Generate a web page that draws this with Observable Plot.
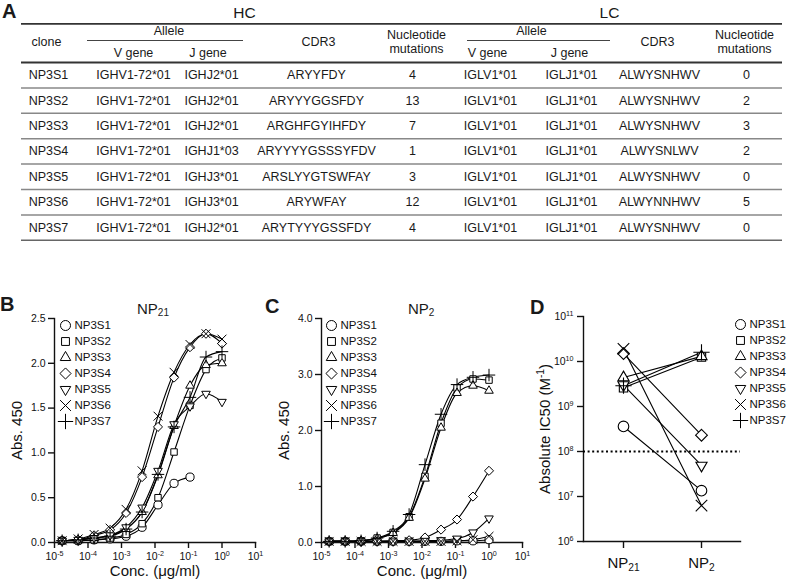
<!DOCTYPE html>
<html><head><meta charset="utf-8">
<script src="https://cdn.jsdelivr.net/npm/d3@7"></script>
<script src="https://cdn.jsdelivr.net/npm/@observablehq/plot@0.6"></script>
<style>
body{margin:0;background:#fff;}
#fig{position:relative;width:787px;height:587px;font-family:"Liberation Sans",Arial,sans-serif;color:#1a1a1a;overflow:hidden;background:#fff}
#fig .abs{position:absolute}
.letter{font-weight:bold;font-size:20px;line-height:1}
.ptitle{font-size:15px;line-height:1;white-space:nowrap}
.ptitle sub{font-size:10px;vertical-align:-2px;line-height:0}
</style></head><body><div id="fig"></div><script>
// ---------- DATA ----------
const names = ["NP3S1","NP3S2","NP3S3","NP3S4","NP3S5","NP3S6","NP3S7"];
const hcVGene = ["IGHV1-72*01","IGHV1-72*01","IGHV1-72*01","IGHV1-72*01","IGHV1-72*01","IGHV1-72*01","IGHV1-72*01"];
const hcJGene = ["IGHJ2*01","IGHJ2*01","IGHJ2*01","IGHJ1*03","IGHJ3*01","IGHJ3*01","IGHJ2*01"];
const hcCDR3 = ["ARYYFDY","ARYYYGGSFDY","ARGHFGYIHFDY","ARYYYYGSSSYFDV","ARSLYYGTSWFAY","ARYWFAY","ARYTYYYGSSFDY"];
const hcMutations = [4,13,7,1,3,12,4];
const lcVGene = ["IGLV1*01","IGLV1*01","IGLV1*01","IGLV1*01","IGLV1*01","IGLV1*01","IGLV1*01"];
const lcJGene = ["IGLJ1*01","IGLJ1*01","IGLJ1*01","IGLJ1*01","IGLJ1*01","IGLJ1*01","IGLJ1*01"];
const lcCDR3 = ["ALWYSNHWV","ALWYSNHWV","ALWYSNHWV","ALWYSNLWV","ALWYSNHWV","ALWYNNHWV","ALWYSNHWV"];
const lcMutations = [0,2,3,2,0,5,0];

// concentrations (µg/ml), 3-fold dilution series from 1
const conc = [1, 0.333, 0.111, 0.037, 0.0123, 0.00412, 0.00137, 0.000457, 0.000152, 0.0000508, 0.0000169];
// Panel B: Abs 450 on NP21 (same order as conc)
const absNP21 = [
  [null, null, 0.73, 0.66, 0.42, 0.17, 0.07, 0.04, 0.03, 0.02, 0.02],
  [2.06, 1.93, 1.53, 1.01, 0.50, 0.21, 0.09, 0.05, 0.03, 0.02, 0.02],
  [2.00, 1.98, 1.75, 1.30, 0.75, 0.34, 0.15, 0.08, 0.05, 0.03, 0.02],
  [2.22, 2.33, 2.18, 1.84, 1.29, 0.73, 0.33, 0.14, 0.08, 0.03, 0.02],
  [1.57, 1.66, 1.52, 1.32, 0.80, 0.39, 0.17, 0.08, 0.05, 0.03, 0.02],
  [2.27, 2.33, 2.21, 1.90, 1.41, 0.80, 0.37, 0.16, 0.09, 0.04, 0.02],
  [2.13, 2.07, 1.62, 1.29, 0.76, 0.34, 0.15, 0.07, 0.05, 0.03, 0.02]
];
// Panel C: Abs 450 on NP2
const absNP2 = [
  [0.05, 0.03, 0.03, 0.02, 0.02, 0.02, 0.02, 0.02, 0.02, 0.02, 0.02],
  [2.90, 2.92, 2.76, 2.13, 1.18, 0.46, 0.18, 0.08, 0.03, 0.02, 0.02],
  [2.71, 2.80, 2.67, 2.05, 1.14, 0.44, 0.17, 0.07, 0.03, 0.02, 0.02],
  [1.28, 0.82, 0.41, 0.23, 0.09, 0.04, 0.03, 0.02, 0.02, 0.02, 0.02],
  [0.43, 0.18, 0.07, 0.04, 0.03, 0.02, 0.02, 0.02, 0.02, 0.02, 0.02],
  [0.11, 0.05, 0.03, 0.02, 0.02, 0.02, 0.02, 0.02, 0.02, 0.02, 0.02],
  [2.99, 2.95, 2.82, 2.29, 1.39, 0.50, 0.20, 0.08, 0.03, 0.02, 0.02]
];
// Panel D: Absolute IC50 (M^-1)
const antigens = ["NP21","NP2"];
const antigenLabels = ["NP₂₁","NP₂"];
const ic50NP21 = [3.6e8, 2.6e9, 4.4e9, 1.5e10, 3.0e9, 1.9e10, 2.9e9];
const ic50NP2  = [1.35e7, 1.25e10, 1.3e10, 2.3e8, 4.9e7, 6.3e6, 1.6e10];
const ic50Threshold = [1e8];

const xTicksConc = [1e-5,1e-4,1e-3,1e-2,1e-1,1,10];
const yTicksB = [0,0.5,1,1.5,2,2.5];
const yTicksC = [0,1,2,3,4];
const yTicksD = [1e6,1e7,1e8,1e9,1e10,1e11];

// ---------- LAYOUT / STYLE ----------
const FONT = '"Liberation Sans", Arial, sans-serif';
const fig = document.getElementById("fig");
const supMap = {"-":"⁻","0":"⁰","1":"¹","2":"²","3":"³","4":"⁴","5":"⁵","6":"⁶","7":"⁷","8":"⁸","9":"⁹"};
const supBack = Object.fromEntries(Object.entries(supMap).map(([k,v])=>[v,k]));
const SUB = "₀₁₂₃₄₅₆₇₈₉";
const sup = s => String(s).split("").map(c => supMap[c]).join("");
const pow10 = d => "10" + sup(Math.round(Math.log10(d)));
const triDown = {draw(context, size){ const s=Math.sqrt(size)*0.6824, t=s/2, u=s*Math.sqrt(3)/2; context.moveTo(0,s); context.lineTo(u,-t); context.lineTo(-u,-t); context.closePath(); }};
const symbols = ["circle","square2","triangle2","diamond2",triDown,"times","plus"];

// render unicode super/subscripts as smaller shifted tspans
function richText(svg){
  svg.querySelectorAll("text").forEach(t => {
    const els = t.querySelectorAll("tspan").length ? [...t.querySelectorAll("tspan")] : [t];
    els.forEach(el => {
      const s = el.textContent;
      if (![...s].some(ch => ch in supBack || SUB.includes(ch))) return;
      const fs = parseFloat(getComputedStyle(el).fontSize) || 10;
      const runs = [];
      for (const ch of s) {
        const kind = ch in supBack ? "sup" : SUB.includes(ch) ? "sub" : "n";
        const plain = kind === "sup" ? supBack[ch] : kind === "sub" ? String(SUB.indexOf(ch)) : ch;
        if (runs.length && runs[runs.length-1].kind === kind) runs[runs.length-1].text += plain;
        else runs.push({kind, text: plain});
      }
      el.textContent = "";
      let shift = 0;
      runs.forEach(r => {
        const ts = document.createElementNS("http://www.w3.org/2000/svg", "tspan");
        const target = r.kind === "sup" ? -0.4*fs : r.kind === "sub" ? 0.22*fs : 0;
        const dy = target - shift; shift = target;
        if (dy) ts.setAttribute("dy", dy.toFixed(2));
        if (r.kind !== "n") ts.setAttribute("font-size", (0.68*fs).toFixed(2));
        ts.textContent = r.text;
        el.appendChild(ts);
      });
    });
  });
}

function place(el, left, top){ el.classList.add("abs"); el.style.left=left+"px"; el.style.top=top+"px"; fig.appendChild(el); if (el.tagName.toLowerCase()==="svg") richText(el); return el; }
function html(cls, content, left, top){ const d=document.createElement("div"); d.className=cls; d.innerHTML=content; return place(d,left,top); }
const baseStyle = {fontFamily: FONT, fontSize: "10.5px", color: "#111", background: "transparent", overflow: "visible"};

// ---------- TABLE (panel A) ----------
const colX = {clone:48, hcV:133, hcJ:211, hcCDR3:316, hcMut:412, lcV:490, lcJ:571, lcCDR3:659, lcMut:746};
const headTop = 62, rowH = 25.4;
const rowY = i => headTop + rowH*(i+0.5);
const cells = [];
names.forEach((n,i)=>{
  const vals = {clone:n, hcV:hcVGene[i], hcJ:hcJGene[i], hcCDR3:hcCDR3[i], hcMut:String(hcMutations[i]), lcV:lcVGene[i], lcJ:lcJGene[i], lcCDR3:lcCDR3[i], lcMut:String(lcMutations[i])};
  for (const k in vals) cells.push({x:colX[k], y:rowY(i), text:vals[k]});
});
const headers = [
  {x:colX.clone-2, y:41, text:"clone"},
  {x:168.5, y:29.5, text:"Allele"}, {x:531, y:29.5, text:"Allele"},
  {x:colX.hcV, y:52, text:"V gene"}, {x:207.5, y:52, text:"J gene"},
  {x:colX.lcV-3, y:52, text:"V gene"}, {x:colX.lcJ-2, y:52, text:"J gene"},
  {x:colX.hcCDR3+2, y:41, text:"CDR3"}, {x:colX.lcCDR3-2, y:41, text:"CDR3"},
  {x:416, y:41, text:"Nucleotide\nmutations"}, {x:colX.lcMut-2, y:41, text:"Nucleotide\nmutations"}
];
const chainLabels = [{x:244, y:13, text:"HC"}, {x:609, y:13, text:"LC"}];
const rowLines = d3.range(1,7).map(k => ({y: headTop + rowH*k}));
const tableSvg = Plot.plot({
  width: 787, height: 246, margin: 0,
  x: {type:"identity", axis:null}, y: {type:"identity", axis:null},
  style: {...baseStyle, fontSize:"12.5px", color:"#1a1a1a"},
  marks: [
    Plot.ruleY([23.3], {x1:21, x2:782, stroke:"#333", strokeWidth:1.8}),
    Plot.ruleY([40], {x1:87, x2:243, stroke:"#444", strokeWidth:1.2}),
    Plot.ruleY([40], {x1:467, x2:610, stroke:"#444", strokeWidth:1.2}),
    Plot.ruleY([headTop], {x1:21, x2:782, stroke:"#333", strokeWidth:1.8}),
    Plot.ruleY(rowLines, {y:"y", x1:21, x2:782, stroke:"#888", strokeWidth:1.5}),
    Plot.ruleY([headTop + rowH*7], {x1:21, x2:782, stroke:"#666", strokeWidth:1.6}),
    Plot.text(chainLabels, {x:"x", y:"y", text:"text", fontSize:15.5}),
    Plot.text(headers, {x:"x", y:"y", text:"text", lineHeight:1.15}),
    Plot.text(cells, {x:"x", y:"y", text:"text"})
  ]
});
place(tableSvg, 0, 0);

// ---------- ELISA panels ----------
function elisa(values, yDomain, yTicks, opts){
  const rows = [];
  names.forEach((n,i)=> values[i].forEach((v,j)=>{ if (v != null) rows.push({name:n, conc:conc[j], abs:v}); }));
  return Plot.plot({
    width: opts.width, height: 287, marginLeft: opts.marginLeft, marginRight: opts.marginRight, marginTop: 18, marginBottom: 45,
    x: {type:"log", domain:[1e-5, 10]},
    y: {domain: yDomain},
    style: baseStyle,
    marks: [
      Plot.frame({anchor:"left", strokeWidth:1.4}),
      Plot.frame({anchor:"bottom", strokeWidth:1.4}),
      Plot.axisY({ticks: yTicks, tickSize:6, tickPadding:3, strokeWidth:1.4, tickFormat: d3.format(".1f"), label:null}),
      Plot.axisX({ticks: xTicksConc, tickSize:6, tickPadding:4, strokeWidth:1.4, tickFormat: pow10, label:null}),
      Plot.line(rows, {x:"conc", y:"abs", z:"name", stroke:"#000", strokeWidth:1.1, curve:"monotone-x"}),
      ...names.map((n,i)=> Plot.dot(rows.filter(d=>d.name===n), {x:"conc", y:"abs", symbol: symbols[i], r:4.1, stroke:"#000", fill:"white", strokeWidth:1})),
      Plot.text(["Abs. 450"], {frameAnchor:"left", rotate:-90, dx:-37, fontSize:15, textAnchor:"middle", lineAnchor:"middle"}),
      Plot.text(["Conc. (μg/ml)"], {frameAnchor:"bottom", dy:29, fontSize:15, textAnchor:"middle", lineAnchor:"middle"})
    ]
  });
}
place(elisa(absNP21, [0,2.5], yTicksB, {width:265, marginLeft:54, marginRight:10}), 0, 300);
place(elisa(absNP2, [0,4], yTicksC, {width:265, marginLeft:56, marginRight:8}), 265, 300);

// ---------- IC50 panel D ----------
const rowsD = [];
names.forEach((n,i)=>{ rowsD.push({name:n, ag:antigens[0], v:ic50NP21[i]}); rowsD.push({name:n, ag:antigens[1], v:ic50NP2[i]}); });
const plotD = Plot.plot({
  width: 257, height: 287, marginLeft: 53, marginRight: 47, marginTop: 16, marginBottom: 46,
  x: {type:"point", domain: antigens, padding: 0.494},
  y: {type:"log", domain:[1e6, 1e11]},
  style: baseStyle,
  marks: [
    Plot.frame({anchor:"left", strokeWidth:1.4}),
    Plot.frame({anchor:"bottom", strokeWidth:1.4}),
    Plot.axisY({ticks: yTicksD, tickSize:6, tickPadding:4, strokeWidth:1.4, tickFormat: pow10, label:null}),
    Plot.axisX({tickSize:7, tickPadding:9, strokeWidth:1.4, tickFormat: d => antigenLabels[antigens.indexOf(d)], fontSize:15, label:null}),
    Plot.ruleY(ic50Threshold, {stroke:"#000", strokeWidth:2, strokeDasharray:"2,2.6"}),
    Plot.line(rowsD, {x:"ag", y:"v", z:"name", stroke:"#000", strokeWidth:1.1}),
    ...names.map((n,i)=> Plot.dot(rowsD.filter(d=>d.name===n), {x:"ag", y:"v", symbol: symbols[i], r:5.3, stroke:"#000", fill:"white", strokeWidth:1.1})),
    Plot.text(["Absolute IC50 (M⁻¹)"], {frameAnchor:"left", rotate:-90, dx:-38, fontSize:15, textAnchor:"middle", lineAnchor:"middle"})
  ]
});
place(plotD, 530, 300);

// ---------- Legends ----------
function legend(){
  const lr = names.map(n=>({name:n}));
  return Plot.plot({
    width: 60, height: 118, marginLeft: 6, marginRight: 0, marginTop: 8, marginBottom: 11,
    x: {domain:[0,1], axis:null}, y: {type:"point", domain:names, padding:0, axis:null},
    style: baseStyle,
    marks: [
      ...names.map((n,i)=> Plot.dot([lr[i]], {x: d=>0, y:"name", symbol: symbols[i], r:5, stroke:"#000", fill:"white", strokeWidth:1})),
      Plot.text(lr, {x: d=>0, y:"name", text:"name", dx:9, textAnchor:"start", fontSize:11.5})
    ]
  });
}
place(legend(), 59, 315);
place(legend(), 325, 315);
place(legend(), 734, 314);

// ---------- Panel letters & titles ----------
html("letter", "A", 2, 1);
html("letter", "B", 0, 294);
html("letter", "C", 265, 295.5);
html("letter", "D", 530, 297);
html("ptitle", "NP<sub>21</sub>", 137, 301);
html("ptitle", "NP<sub>2</sub>", 408, 301);
</script></body></html>
